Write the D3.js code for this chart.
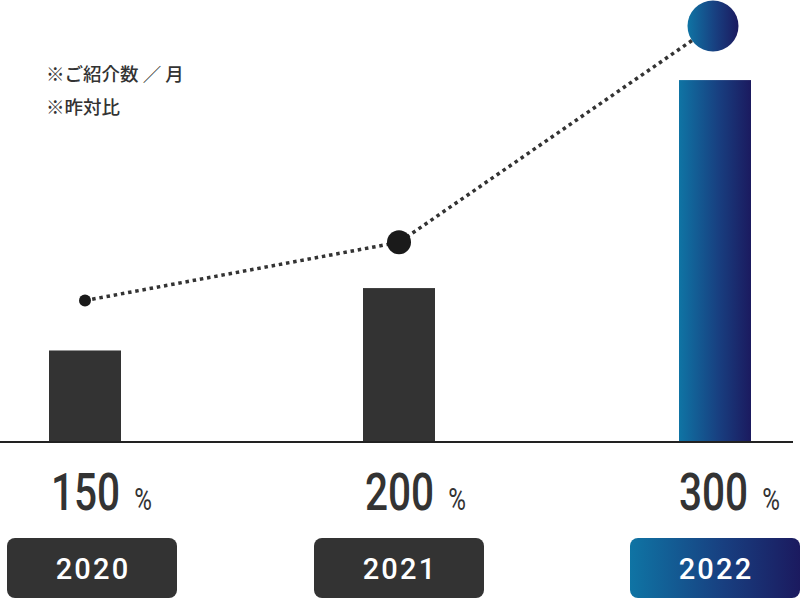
<!DOCTYPE html>
<html><head><meta charset="utf-8">
<script src="https://cdn.jsdelivr.net/npm/d3@7"></script>
<style>html,body{margin:0;padding:0;background:#fff;}svg{display:block;}</style>
</head><body>
<svg id="chart" width="801" height="600"></svg>
<script>
// ---- data ----
const years = ["2020", "2021", "2022"];
const barValues = [22, 37, 87];          // ご紹介数 / 月 (relative)
const lineValues = [34, 48, 100];        // 昨対比 (relative)
const pctLabels = [150, 200, 300];       // 昨対比 %
const noteLines = ["※ご紹介数 ／ 月", "※昨対比"];

// ---- drawing ----
const W = 801, H = 600;
const svg = d3.select("#chart");
const defs = svg.append("defs");
const grad = defs.append("linearGradient").attr("id", "blueGrad")
  .attr("x1", "0%").attr("x2", "100%").attr("y1", "0%").attr("y2", "0%");
grad.append("stop").attr("offset", "0%").attr("stop-color", "#0f74a4");
grad.append("stop").attr("offset", "55%").attr("stop-color", "#183f80");
grad.append("stop").attr("offset", "100%").attr("stop-color", "#1b1a5f");

const x = d3.scalePoint().domain(years).range([85, 713]);
const y = d3.scaleLinear().domain([0, 100]).range([442, 26]);
const barW = 72;
const last = years.length - 1;
const fillFor = i => i === last ? "url(#blueGrad)" : "#333333";

// bars
svg.selectAll("rect.bar").data(barValues).join("rect").attr("class", "bar")
  .attr("x", (d, i) => x(years[i]) - barW / 2 + (i === last ? 2 : 0))
  .attr("width", barW)
  .attr("y", d => y(d))
  .attr("height", d => y(0) - y(d))
  .attr("fill", (d, i) => fillFor(i));

// baseline
svg.append("line").attr("x1", 0).attr("x2", 793).attr("y1", y(0)).attr("y2", y(0))
  .attr("stroke", "#222").attr("stroke-width", 2);

// dotted line
const line = d3.line().x((d, i) => x(years[i])).y(d => y(d));
svg.append("path").datum(lineValues).attr("d", line)
  .attr("fill", "none").attr("stroke", "#333").attr("stroke-width", 3.5)
  .attr("stroke-dasharray", "3.5 3.8");

// markers
const markerR = [6, 12, 25.5];
svg.selectAll("circle.pt").data(lineValues).join("circle").attr("class", "pt")
  .attr("cx", (d, i) => x(years[i]))
  .attr("cy", d => y(d))
  .attr("r", (d, i) => markerR[i])
  .attr("fill", (d, i) => i === last ? "url(#blueGrad)" : "#1a1a1a");

// percent labels
const pct = svg.selectAll("text.pct").data(pctLabels).join("text").attr("class", "pct")
  .attr("transform", (d, i) => `translate(${x(years[i]) - barW / 2 + 2},510) scale(0.78,1)`)
  .attr("font-family", "Roboto, sans-serif").attr("font-weight", 500)
  .attr("fill", "#333");
pct.append("tspan").attr("font-size", 52).text(d => d);
pct.append("tspan").attr("font-size", 31).attr("font-weight", 400).attr("dx", 18).text("%");

// year boxes
const boxW = 170, boxH = 60;
const boxX = i => i === last ? W - 1 - boxW : Math.max(7, x(years[i]) - boxW / 2);
svg.selectAll("rect.box").data(years).join("rect").attr("class", "box")
  .attr("x", (d, i) => boxX(i)).attr("y", 538)
  .attr("width", boxW).attr("height", boxH)
  .attr("rx", 8).attr("ry", 8)
  .attr("fill", (d, i) => fillFor(i));
svg.selectAll("text.year").data(years).join("text").attr("class", "year")
  .attr("x", (d, i) => boxX(i) + boxW / 2 + 1).attr("y", 579)
  .attr("text-anchor", "middle")
  .attr("font-family", "Roboto, sans-serif").attr("font-weight", 500)
  .attr("font-size", 29).attr("letter-spacing", 2.2)
  .attr("fill", "#fff").text(d => d);

// notes
svg.selectAll("text.note").data(noteLines).join("text").attr("class", "note")
  .attr("x", 46).attr("y", (d, i) => 81 + i * 33)
  .attr("font-family", "'Noto Sans CJK JP', sans-serif").attr("font-weight", 500)
  .attr("font-size", 18.5).attr("fill", "#333").text(d => d);
</script>
</body></html>
